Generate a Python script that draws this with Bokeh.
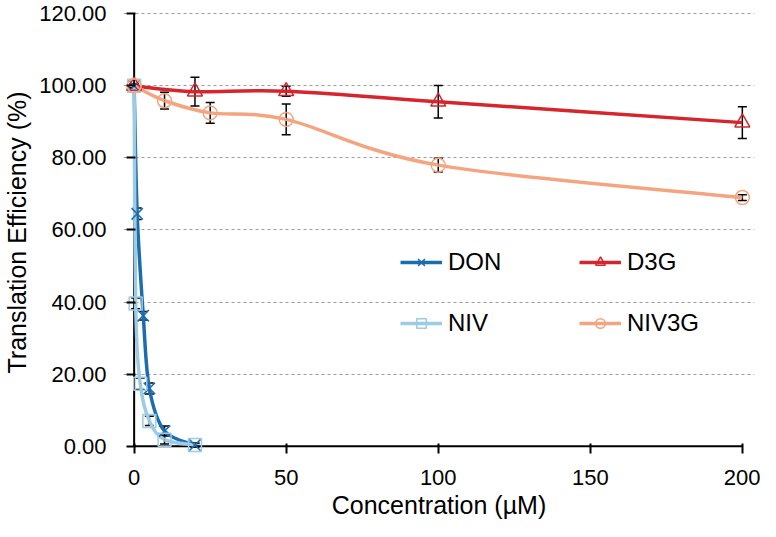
import numpy as np
from bokeh.plotting import figure
from bokeh.models import (Range1d, ColumnDataSource, Whisker, TeeHead, Legend, LegendItem,
                          NumeralTickFormatter, FixedTicker)
from bokeh.embed import file_html
from bokeh.resources import INLINE

# ---- data ----
don_x = [0, 1, 3, 5, 10, 20]
don_y = [100.0, 64.5, 36.2, 16.0, 4.2, 0.3]
don_err = [0.5, 1.6, 1.2, 1.5, 1.4, 0.6]

niv_x = [0, 0.5, 2, 5, 10, 20]
niv_y = [100.0, 39.6, 17.3, 7.0, 1.8, 0.3]
niv_err = [0.5, 1.5, 1.6, 1.3, 1.2, 0.4]

d3g_x = [0, 20, 50, 100, 200]
d3g_y = [100.0, 98.4, 98.5, 95.6, 89.8]
d3g_err = [0.5, 4.0, 1.4, 4.5, 4.4]

niv3g_x = [0, 10, 25, 50, 100, 200]
niv3g_y = [100.0, 95.9, 92.5, 90.7, 78.0, 69.0]
niv3g_err = [0.5, 2.3, 2.9, 4.3, 1.9, 0.8]

y_ticks = [0, 20, 40, 60, 80, 100, 120]
x_ticks = [0, 50, 100, 150, 200]

FONT = "Liberation Sans"

p = figure(width=760, height=521, output_backend="svg", toolbar_location=None,
           x_range=Range1d(-3.5, 204), y_range=Range1d(-2.6, 121.2),
           min_border_left=123, min_border_right=6, min_border_top=9, min_border_bottom=64)
p.outline_line_color = None
p.background_fill_color = "white"

for ax in (p.xaxis[0], p.yaxis[0]):
    ax.axis_line_color = None
    ax.major_tick_line_color = "black"
    ax.major_tick_line_width = 2
    ax.minor_tick_line_color = None
    ax.minor_tick_out = 0
    ax.minor_tick_in = 0
    ax.major_label_text_font = FONT
    ax.major_label_text_font_size = "22px"
    ax.major_label_text_color = "black"
    ax.axis_label_text_font = FONT
    ax.axis_label_text_font_size = "25px"
    ax.axis_label_text_font_style = "normal"
    ax.axis_label_text_color = "black"

p.xaxis.ticker = FixedTicker(ticks=x_ticks)
p.yaxis.ticker = FixedTicker(ticks=y_ticks)
p.yaxis.formatter = NumeralTickFormatter(format="0.00")
p.xaxis.major_tick_in = 12
p.xaxis.major_tick_out = -2
p.yaxis.major_tick_in = 12
p.yaxis.major_tick_out = -3
p.xaxis.major_label_standoff = 14
p.yaxis.major_label_standoff = 17
p.xaxis.axis_label = "Concentration (µM)"
p.yaxis.axis_label = "Translation Efficiency (%)"
p.xaxis.axis_label_standoff = 3
p.yaxis.axis_label_standoff = 5

p.xgrid.visible = False
p.ygrid.ticker = FixedTicker(ticks=y_ticks[1:])
p.ygrid.grid_line_color = "#9a9a9a"
p.ygrid.grid_line_dash = "3 3"
p.ygrid.grid_line_width = 1
p.ygrid.bounds = (x_ticks[0], x_ticks[-1])

# axis lines crossing at the origin
p.segment(x0=[x_ticks[0], 0], y0=[0, y_ticks[0]], x1=[x_ticks[-1], 0], y1=[0, y_ticks[-1]],
          line_color="black", line_width=2)


def bezier_parts(xs, ys):
    xs = np.asarray(xs, float)
    ys = np.asarray(ys, float)
    n = len(xs)
    out = dict(x0=[], y0=[], x1=[], y1=[], cx0=[], cy0=[], cx1=[], cy1=[])
    for i in range(n - 1):
        a = i - 1 if i > 0 else i
        d = i + 2 if i + 2 < n else i + 1
        out["x0"].append(xs[i]); out["y0"].append(ys[i])
        out["x1"].append(xs[i + 1]); out["y1"].append(ys[i + 1])
        out["cx0"].append(xs[i] + (xs[i + 1] - xs[a]) / 6)
        out["cy0"].append(ys[i] + (ys[i + 1] - ys[a]) / 6)
        out["cx1"].append(xs[i + 1] - (xs[d] - xs[i]) / 6)
        out["cy1"].append(ys[i + 1] - (ys[d] - ys[i]) / 6)
    return out


series = [
    ("DON", don_x, don_y, don_err, "#1b6db0", "x", 16),
    ("NIV", niv_x, niv_y, niv_err, "#9dcbe3", "square", 13),
    ("D3G", d3g_x, d3g_y, d3g_err, "#d4262c", "triangle", 15),
    ("NIV3G", niv3g_x, niv3g_y, niv3g_err, "#f4a57f", "circle", 14),
]

items = {}
line_rs = []
for name, xs, ys, errs, col, mk, sz in series:
    br = p.bezier(source=ColumnDataSource(bezier_parts(xs, ys)),
                  x0="x0", y0="y0", x1="x1", y1="y1", cx0="cx0", cy0="cy0",
                  cx1="cx1", cy1="cy1", line_color=col, line_width=3.5)
    line_rs.append((name, br, xs, ys, errs, col, mk, sz))

for name, br, xs, ys, errs, col, mk, sz in line_rs:
    sr = p.scatter(xs, ys, marker=mk, size=sz, line_color=col, line_width=1.5,
                   fill_alpha=0)
    items[name] = [br, sr]

for name, br, xs, ys, errs, col, mk, sz in line_rs:
    ya = np.asarray(ys, float); ea = np.asarray(errs, float)
    src = ColumnDataSource(dict(x=xs, up=ya + ea, lo=ya - ea))
    w = Whisker(source=src, base="x", upper="up", lower="lo", dimension="height",
                line_color="black", line_width=1.5,
                upper_head=TeeHead(size=9, line_color="black", line_width=1.5),
                lower_head=TeeHead(size=9, line_color="black", line_width=1.5))
    p.add_layout(w)


def make_legend(names, loc):
    lg = Legend(items=[LegendItem(label=n, renderers=items[n]) for n in names],
                location=loc, orientation="vertical")
    lg.label_text_font = FONT
    lg.label_text_font_size = "24px"
    lg.label_text_color = "black"
    lg.glyph_width = 42
    lg.glyph_height = 24
    lg.label_height = 24
    lg.label_standoff = 6
    lg.spacing = 33
    lg.padding = 0
    lg.margin = 0
    lg.border_line_alpha = 0
    lg.background_fill_alpha = 0
    return lg


p.add_layout(make_legend(["DON", "NIV"], (277, 118)))
p.add_layout(make_legend(["D3G", "NIV3G"], (456, 118)))

open("out.html", "w").write(file_html(p, INLINE))
